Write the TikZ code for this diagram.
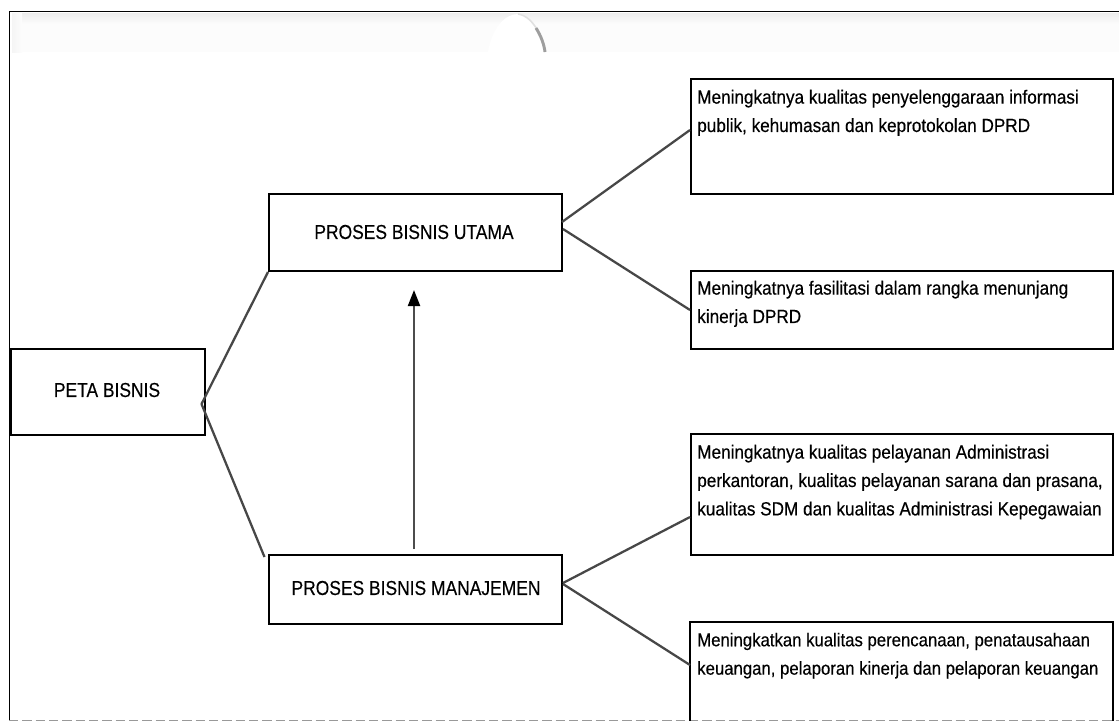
\documentclass[tikz,border=0pt]{standalone}
\usepackage{fontspec}
\setmainfont[FakeStretch=0.86,FakeBold=0.25]{Liberation Sans}
\newfontfamily\boxtextfont[FakeStretch=0.9,FakeBold=0.35]{Liberation Sans}
\usetikzlibrary{arrows.meta}
\tikzset{
  x=0.75pt,y=-0.75pt,
  bx/.style={draw=black,line width=1.5pt,fill=white,inner sep=0pt,anchor=north west},
  lab/.style={font=\fontsize{15.2}{18}\selectfont,inner sep=0pt},
  txt/.style={font=\boxtextfont\fontsize{14.3}{21.3}\selectfont,anchor=north west,align=left,inner sep=0pt},
  conn/.style={draw=black!72,line width=1.7pt},
}
\begin{document}
\begin{tikzpicture}
\useasboundingbox (0,0) rectangle (1119,722);
\fill[white] (0,0) rectangle (1119,722);
% page header, faded
\fill[black!1] (12,13) rectangle (1119,52);
\shade[top color=black!7,bottom color=black!1] (12,13) rectangle (1119,24);
\shade[left color=black!4,right color=black!1] (12,13) rectangle (22,52);
\fill[white] (488,52) .. controls (492,28) and (505,14) .. (518,14) .. controls (530,14) and (541,30) .. (545,52) -- cycle;
\draw[black!12,line width=1.2pt] (518,14) .. controls (526,15) and (533,22) .. (538,31);
\draw[black!38,line width=2.2pt] (536,28) .. controls (541,36) and (544,44) .. (545,52);
% page frame
\draw[black!40,line width=1pt,dash pattern=on 7pt off 3pt] (9,720.5) -- (1119,720.5);
\draw[black,line width=1pt] (1119,11.5) -- (9.5,11.5) -- (9.5,720);
% boxes
\node[bx,minimum width=194*0.75pt,minimum height=86*0.75pt] (peta) at (10,348) {};
\node[bx,minimum width=293*0.75pt,minimum height=77*0.75pt] (utama) at (268,193) {};
\node[bx,minimum width=293*0.75pt,minimum height=69*0.75pt] (manaj) at (268,554) {};
\node[bx,minimum width=422*0.75pt,minimum height=115*0.75pt] (a) at (690,78) {};
\node[bx,minimum width=422*0.75pt,minimum height=78*0.75pt] (b) at (690,270) {};
\node[bx,minimum width=422*0.75pt,minimum height=121*0.75pt] (c) at (690,433) {};
\node[inner sep=0pt,anchor=north west,minimum width=422*0.75pt,minimum height=98*0.75pt] (d) at (690,622) {};
\draw[black,line width=1.5pt] (d.south west) -- (d.north west) -- (d.north east) -- (d.south east);
% labels
\node[lab] (tpeta) at (107,390) {PETA BISNIS};
\node[lab] (tutama) at (414,232) {PROSES BISNIS UTAMA};
\node[lab] (tmanaj) at (416,588) {PROSES BISNIS MANAJEMEN};
\node[txt] (ta) at (697,89.5) {Meningkatnya kualitas penyelenggaraan informasi\\publik, kehumasan dan keprotokolan DPRD};
\node[txt] (tb) at (697,280.5) {Meningkatnya fasilitasi dalam rangka menunjang\\kinerja DPRD};
\node[txt] (tc) at (697,444.5) {Meningkatnya kualitas pelayanan Administrasi\\perkantoran, kualitas pelayanan sarana dan prasana,\\kualitas SDM dan kualitas Administrasi Kepegawaian};
\node[txt,font=\boxtextfont\fontsize{13.95}{21.3}\selectfont] (td) at (697,632.5) {Meningkatkan kualitas perencanaan, penatausahaan\\keuangan, pelaporan kinerja dan pelaporan keuangan};
% connector ends
\coordinate (pout) at (201.5,404);
\coordinate (mtop) at (264.5,557);
\coordinate (uoa) at (562,222);
\coordinate (uob) at (563,229);
\coordinate (moc) at (563,583);
\coordinate (mod) at (563,584);
\coordinate (ain) at (690,130);
\coordinate (cin) at (690,517);
\coordinate (din) at (690,665);
\coordinate (arrs) at (414,549);
\coordinate (arre) at (414,290);
% connectors
\draw[conn] (pout) -- (utama.south west);
\draw[conn] (pout) -- (mtop);
\draw[conn] (uoa) -- (ain);
\draw[conn] (uob) -- (b.west);
\draw[conn] (moc) -- (cin);
\draw[conn] (mod) -- (din);
\draw[black!70,line width=1.55pt,-{Triangle[length=12pt,width=9pt,color=black]}] (arrs) -- (arre);
\end{tikzpicture}
\end{document}
